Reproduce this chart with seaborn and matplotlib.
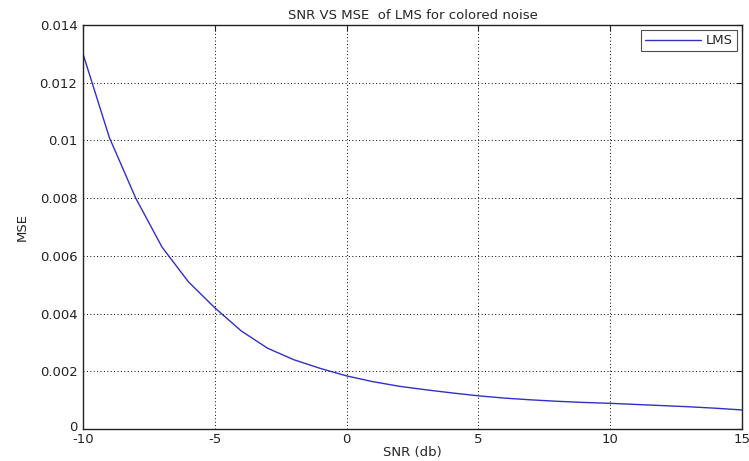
import matplotlib
matplotlib.use("Agg")
import matplotlib.pyplot as plt
import matplotlib.transforms as mtransforms
import seaborn as sns
import pandas as pd

# SNR sweep (dB) and the resulting mean squared error of the LMS filter
snr_db = [-10, -9, -8, -7, -6, -5, -4, -3, -2, -1, 0, 1, 2, 3, 4,
          5, 6, 7, 8, 9, 10, 11, 12, 13, 14, 15]
mse = [0.0130, 0.0101, 0.0080, 0.0063, 0.0051, 0.0042, 0.0034, 0.0028,
       0.0024, 0.0021, 0.00184, 0.00164, 0.00148, 0.00136, 0.00125,
       0.00115, 0.00107, 0.00101, 0.00096, 0.00092, 0.00089, 0.00085,
       0.00081, 0.00077, 0.00072, 0.00066]
series_name = "LMS"

x_ticks = [-10, -5, 0, 5, 10, 15]
y_ticks = [0, 0.002, 0.004, 0.006, 0.008, 0.01, 0.012, 0.014]
y_tick_labels = ["0", "0.002", "0.004", "0.006", "0.008", "0.01", "0.012", "0.014"]

df = pd.DataFrame({"SNR": snr_db, "MSE": mse, "method": series_name})

sns.set_style("white")
plt.rcParams["font.family"] = ["DejaVu Sans"]
fs = 9.5

fig = plt.figure(figsize=(7.49, 4.61), dpi=100)
ax = fig.add_axes([0.1108, 0.0694, 0.8799, 0.8764])

sns.lineplot(data=df, x="SNR", y="MSE", hue="method", palette=["#3030c4"],
             linewidth=1.0, ax=ax)

ax.set_xlim(-10, 15)
ax.set_ylim(0, 0.014)
ax.set_xticks(x_ticks)
ax.set_xticklabels([str(t) for t in x_ticks])
ax.set_yticks(y_ticks)
ax.set_yticklabels(y_tick_labels)

ax.grid(True, color="black", linestyle=(0, (1, 2.5)), linewidth=0.7)
for side in ax.spines.values():
    side.set_visible(True)
    side.set_color("#222222")
    side.set_linewidth(1.0)

ax.tick_params(direction="in", length=4, width=0.8, colors="#222222",
               labelsize=fs, top=True, right=True, pad=4)
ax.tick_params(axis="x", pad=3)

# lift the bottom y label so it sits just above the "-10" x label
zero_label = ax.get_yticklabels()[0]
zero_label.set_transform(zero_label.get_transform() +
                         mtransforms.ScaledTranslation(0, 2.5 / 72, fig.dpi_scale_trans))

ax.set_xlabel("SNR (db)", fontsize=fs, labelpad=0)
ax.set_ylabel("MSE", fontsize=fs, labelpad=8)
ax.set_title("SNR VS MSE  of LMS for colored noise", fontsize=fs, pad=4)

leg = ax.legend(loc="upper right", fontsize=fs, frameon=True, fancybox=False,
                handlelength=4.2, borderaxespad=0.4, borderpad=0.3,
                handletextpad=0.4)
leg.get_frame().set_edgecolor("#222222")
leg.get_frame().set_linewidth(0.8)

fig.savefig("out.png", dpi=100, facecolor="white")
